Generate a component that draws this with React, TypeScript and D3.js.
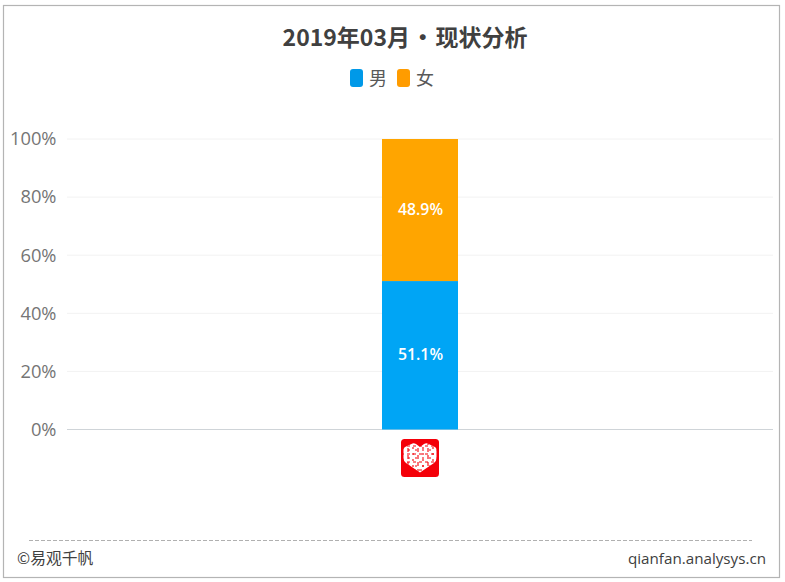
import React, { useEffect, useRef } from 'react'
import * as d3 from 'd3'

const width = 785
const height = 582
const margin = { top: 139, right: 12, bottom: 152.5, left: 67 }

const categories = ['拼多多']
const seriesNames = ['男', '女']
const maleValues = [51.1]
const femaleValues = [48.9]
const yTicks = [0, 20, 40, 60, 80, 100]
const seriesColors = ['#00a5f5', '#ffa500']

const titleText = '2019年03月 • 现状分析'
const footerLeft = '©易观千帆'
const footerRight = 'qianfan.analysys.cn'

const cjkFont = '"Noto Sans CJK SC", "Noto Sans", sans-serif'
const latinFont = '"Open Sans", "Noto Sans CJK SC", sans-serif'

const App: React.FC = () => {
  const svgRef = useRef<SVGSVGElement>(null)

  useEffect(() => {
    const svg = d3.select(svgRef.current)
    svg.selectAll('*').remove()

    const innerW = width - margin.left - margin.right
    const innerH = height - margin.top - margin.bottom

    // outer frame
    svg
      .append('rect')
      .attr('x', 3.5)
      .attr('y', 5.5)
      .attr('width', 776)
      .attr('height', 572)
      .attr('fill', '#fff')
      .attr('stroke', '#b4b4b4')
      .attr('stroke-width', 1.2)

    svg
      .append('text')
      .attr('x', 405)
      .attr('y', 46)
      .attr('text-anchor', 'middle')
      .attr('font-family', cjkFont)
      .attr('font-size', 23)
      .attr('font-weight', 700)
      .attr('word-spacing', -4)
      .attr('fill', '#404040')
      .text(titleText)

    // legend
    const legendX = [350, 397]
    seriesNames.forEach((name, i) => {
      svg
        .append('rect')
        .attr('x', legendX[i])
        .attr('y', 69)
        .attr('width', 13)
        .attr('height', 18)
        .attr('rx', 3)
        .attr('fill', i === 0 ? '#0099e8' : '#ff9c00')
      svg
        .append('text')
        .attr('x', legendX[i] + 19)
        .attr('y', 85)
        .attr('font-family', cjkFont)
        .attr('font-size', 18)
        .attr('fill', '#595959')
        .text(name)
    })

    const g = svg.append('g').attr('transform', `translate(${margin.left},${margin.top})`)

    const x = d3.scaleBand().domain(categories).range([0, innerW]).paddingInner(0).paddingOuter(0)
    const y = d3.scaleLinear().domain([0, 100]).range([innerH, 0])
    const barW = 76

    const yAxis = g.append('g').call(
      d3
        .axisLeft(y)
        .tickValues(yTicks)
        .tickSize(0)
        .tickPadding(10.5)
        .tickFormat((d) => `${d}%`),
    )
    yAxis.select('.domain').remove()
    yAxis
      .selectAll('text')
      .attr('font-family', latinFont)
      .attr('font-size', 18.3)
      .attr('fill', '#757575')

    g.selectAll('line.grid')
      .data(yTicks)
      .enter()
      .append('line')
      .attr('class', 'grid')
      .attr('x1', 0)
      .attr('x2', innerW)
      .attr('y1', (d) => y(d))
      .attr('y2', (d) => y(d))
      .attr('stroke', (d) => (d === 0 ? '#cfd4d8' : '#f2f2f2'))
      .attr('stroke-width', 1)

    const stacked = d3
      .stack<string>()
      .keys(seriesNames)
      .value((_, key) => (key === '男' ? maleValues[0] : femaleValues[0]))(categories)

    stacked.forEach((layer, i) => {
      const cx = (x(categories[0]) as number) + x.bandwidth() / 2
      const [y0, y1] = layer[0]
      g.append('rect')
        .attr('x', cx - barW / 2)
        .attr('y', y(y1))
        .attr('width', barW)
        .attr('height', y(y0) - y(y1))
        .attr('fill', seriesColors[i])
      g.append('text')
        .attr('x', cx + 0.5)
        .attr('y', y((y0 + y1) / 2) + 5)
        .attr('text-anchor', 'middle')
        .attr('font-family', latinFont)
        .attr('font-size', 15.8)
        .attr('font-weight', 600)
        .attr('fill', '#fff')
        .text(`${(y1 - y0).toFixed(1)}%`)
    })

    // category logo under the bar
    const logo = svg.append('g').attr('transform', 'translate(401,439)')
    logo.append('rect').attr('width', 38).attr('height', 38).attr('rx', 3.5).attr('fill', '#f40009')
    const heartPath =
      'M19 33.5 L5 24 Q2.5 22 2.5 19 L2.5 10.5 Q2.5 8.5 5 7.5 L11.5 4.5 Q13 4 15 5 L19 8 L23 5 Q25 4 26.5 4.5 L33 7.5 Q35.5 8.5 35.5 10.5 L35.5 19 Q35.5 22 33 24 Z'
    logo.append('path').attr('d', heartPath).attr('fill', '#fff')
    const clip = logo.append('clipPath').attr('id', 'heart-clip')
    clip.append('path').attr('d', heartPath)
    const lattice = logo.append('g').attr('clip-path', 'url(#heart-clip)')
    d3.range(8).forEach((i) => {
      lattice
        .append('line')
        .attr('x1', 2 + i * 5)
        .attr('y1', 2)
        .attr('x2', 2 + i * 5)
        .attr('y2', 34)
        .attr('stroke', '#f40009')
        .attr('stroke-width', 1.1)
        .attr('stroke-dasharray', i % 2 ? '4 3' : '2 4')
      lattice
        .append('line')
        .attr('x1', 0)
        .attr('y1', 7 + i * 4)
        .attr('x2', 38)
        .attr('y2', 7 + i * 4)
        .attr('stroke', '#f40009')
        .attr('stroke-width', 1.1)
        .attr('stroke-dasharray', i % 2 ? '2 5' : '3 3')
    })

    // footer
    svg
      .append('line')
      .attr('x1', 29)
      .attr('x2', 752)
      .attr('y1', 540.5)
      .attr('y2', 540.5)
      .attr('stroke', '#b0b0b0')
      .attr('stroke-dasharray', '4 2')
    svg
      .append('text')
      .attr('x', 17)
      .attr('y', 564)
      .attr('font-family', cjkFont)
      .attr('font-size', 15.8)
      .attr('fill', '#404040')
      .text(footerLeft)
    svg
      .append('text')
      .attr('x', 766)
      .attr('y', 564)
      .attr('text-anchor', 'end')
      .attr('font-family', latinFont)
      .attr('font-size', 15.2)
      .attr('fill', '#404040')
      .text(footerRight)
  }, [])

  return (
    <svg
      ref={svgRef}
      width={width}
      height={height}
      style={{ position: 'absolute', left: 0, top: 0, background: '#fff' }}
    />
  )
}

export default App
